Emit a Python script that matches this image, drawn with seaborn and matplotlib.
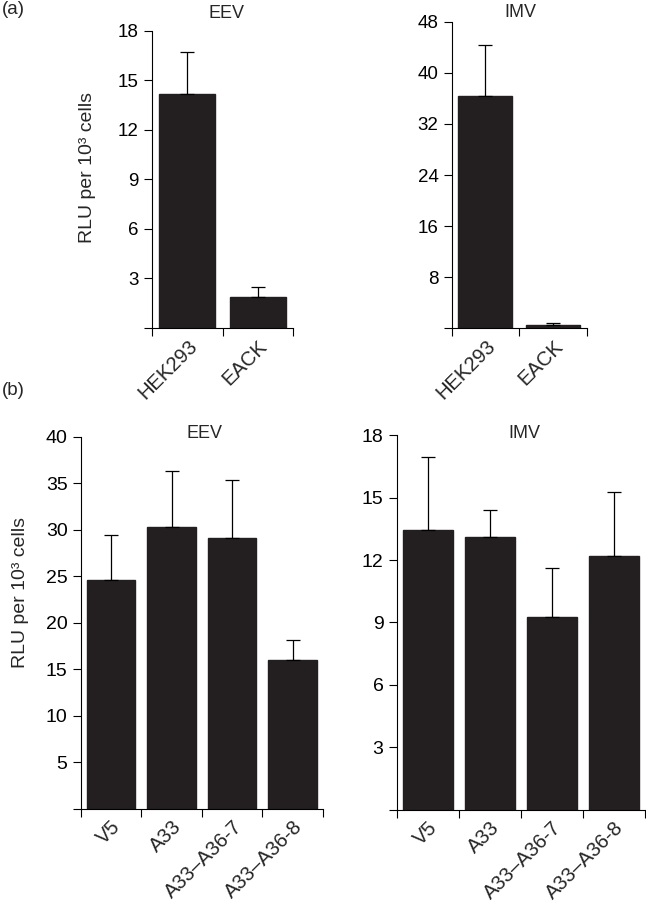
import matplotlib
matplotlib.use('Agg')
import matplotlib.pyplot as plt
import seaborn as sns
import numpy as np

# Valores (media y barra de error superior)
cats_a = ['HEK293', 'EACK']
eev_a = [14.15, 1.86]
eev_a_err = [2.55, 0.64]
imv_a = [36.4, 0.5]
imv_a_err = [7.9, 0.3]

cats_b = ['V5', 'A33', 'A33\u2013A36-7', 'A33\u2013A36-8']
eev_b = [24.55, 30.3, 29.1, 16.0]
eev_b_err = [4.85, 6.0, 6.3, 2.1]
imv_b = [13.45, 13.1, 9.25, 12.2]
imv_b_err = [3.5, 1.3, 2.35, 3.05]

sns.set_style('ticks')
plt.rcParams['font.family'] = ['Liberation Sans', 'DejaVu Sans']
BAR = '#231f20'
YLAB = 'RLU per 10\u00b3 cells'

fig = plt.figure(figsize=(6.46, 9.05), dpi=100)


def panel(rect, cats, vals, errs, ymax, step, fs_y, fs_x,
          ylabel=None, lab_xy=None):
    ax = fig.add_axes(rect)
    sns.barplot(x=cats, y=vals, color=BAR, saturation=1, width=0.8,
                errorbar=None, edgecolor=BAR, ax=ax)
    n = len(cats)
    ax.errorbar(np.arange(n), vals, yerr=[np.zeros(n), errs], fmt='none',
                ecolor='black', elinewidth=0.9, capsize=5, capthick=0.9)
    ax.set_xlim(-0.5, n - 0.5)
    ax.set_ylim(0, ymax)
    yt = np.arange(0, ymax + 0.1, step)
    ax.set_yticks(yt)
    ax.set_yticklabels([''] + [f'{v:g}' for v in yt[1:]], fontsize=fs_y)
    # ticks en los limites de categoria, etiquetas centradas
    ax.set_xticks(np.arange(-0.5, n, 1.0))
    ax.set_xticklabels([])
    ax.set_xticks(np.arange(n), minor=True)
    ax.set_xticklabels(cats, minor=True, rotation=45, ha='right',
                       rotation_mode='anchor', fontsize=fs_x)
    ax.tick_params(axis='x', which='minor', length=0, pad=6)
    ax.tick_params(axis='both', which='major', length=6, width=0.8,
                   color='black', labelcolor='black')
    sns.despine(ax=ax)
    for s in ['left', 'bottom']:
        ax.spines[s].set_linewidth(0.8)
        ax.spines[s].set_color('black')
    ax.set_xlabel('')
    if ylabel:
        ax.set_ylabel(ylabel, fontsize=14)
        ax.yaxis.set_label_coords(*lab_xy)
    return ax


panel([0.2353, 0.6376, 0.2183, 0.3282], cats_a, eev_a, eev_a_err, 18, 3,
      13.5, 14.5, YLAB, (-0.395, 0.54))
panel([0.6992, 0.6372, 0.2090, 0.3388], cats_a, imv_a, imv_a_err, 48, 8,
      13.5, 14.5)
panel([0.1249, 0.1066, 0.3751, 0.4107], cats_b, eev_b, eev_b_err, 40, 5,
      14, 14.5, YLAB, (-0.215, 0.58))
panel([0.6141, 0.1055, 0.3844, 0.4135], cats_b, imv_b, imv_b_err, 18, 3,
      14, 14.5)

# Titulos y letras de panel
fig.text(0.350, 0.980, 'EEV', ha='center', va='baseline', fontsize=13)
fig.text(0.805, 0.981, 'IMV', ha='center', va='baseline', fontsize=13)
fig.text(0.317, 0.516, 'EEV', ha='center', va='baseline', fontsize=13)
fig.text(0.811, 0.516, 'IMV', ha='center', va='baseline', fontsize=13)
fig.text(0.003, 0.989, '(a)', ha='left', va='center', fontsize=13.5)
fig.text(0.003, 0.569, '(b)', ha='left', va='center', fontsize=13.5)

plt.savefig('out.png', dpi=100)
